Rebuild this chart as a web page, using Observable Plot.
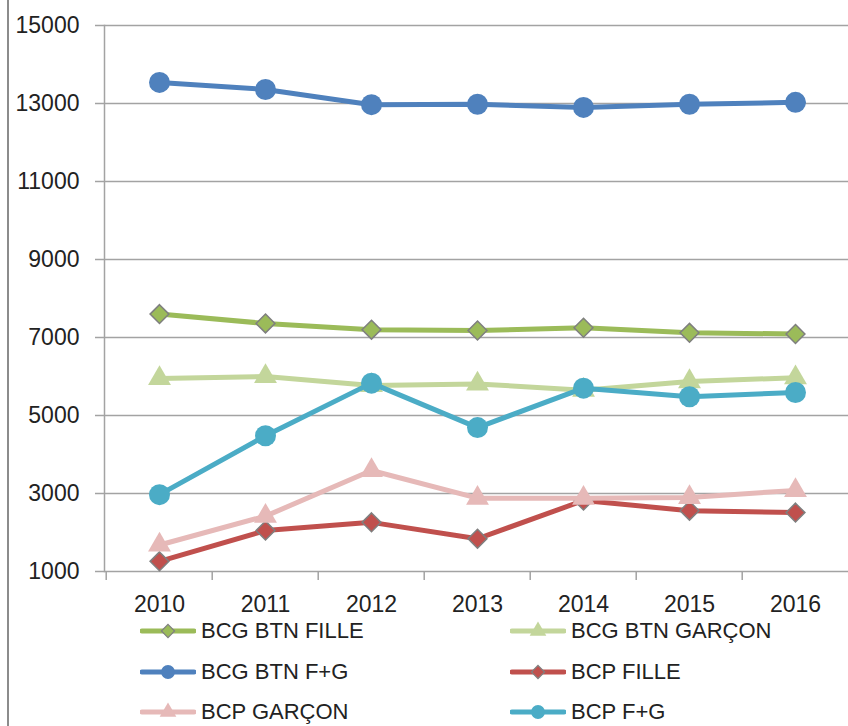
<!DOCTYPE html>
<html>
<head>
<meta charset="utf-8">
<script src="https://cdn.jsdelivr.net/npm/d3@7"></script>
<script src="https://cdn.jsdelivr.net/npm/@observablehq/plot@0.6"></script>
<style>
  html, body { margin: 0; padding: 0; background: #fff; }
  #wrap { position: relative; width: 848px; height: 726px; overflow: hidden; font-family: "Liberation Sans", Arial, sans-serif; }
  #border { position: absolute; left: 7px; top: 0; bottom: 0; width: 2px; background: #8c8c8c; }
  #legend { position: absolute; left: 0; top: 611px; width: 848px; }
  .row { position: absolute; height: 40px; display: flex; align-items: center; font-size: 22px; color: #222; white-space: nowrap; }
  .row svg { margin-right: 5px; }
</style>
</head>
<body>
<div id="wrap"><div id="border"></div><div id="chart"></div><div id="legend"></div></div>
<script>
const years = ["2010", "2011", "2012", "2013", "2014", "2015", "2016"];
const seriesNames = ["BCG BTN FILLE", "BCG BTN GARÇON", "BCG BTN F+G", "BCP FILLE", "BCP GARÇON", "BCP F+G"];
const bcgBtnFille  = [7600, 7360, 7200, 7180, 7250, 7120, 7090];
const bcgBtnGarcon = [5950, 6000, 5770, 5810, 5650, 5870, 5970];
const bcgBtnFG     = [13540, 13360, 12970, 12980, 12900, 12980, 13030];
const bcpFille     = [1260, 2050, 2260, 1840, 2820, 2560, 2510];
const bcpGarcon    = [1680, 2420, 3590, 2880, 2880, 2900, 3080];
const bcpFG        = [2970, 4480, 5830, 4690, 5700, 5480, 5590];
const yTicks = [1000, 3000, 5000, 7000, 9000, 11000, 13000, 15000];

const seriesValues = [bcgBtnFille, bcgBtnGarcon, bcgBtnFG, bcpFille, bcpGarcon, bcpFG];
const colors = ["#9BBB59", "#C3D69B", "#4F81BD", "#C0504D", "#E6B9B8", "#4BACC6"];
const symbols = ["diamond2", "triangle", "circle", "diamond2", "triangle", "circle"];
const radii = {diamond2: 8.5, triangle: 8.5, circle: 10.5};

const W = 848, H = 621, ML = 104, MR = -2, MT = 25, MB = 50;
const bw = (W - MR - ML) / years.length;
const grid = "#a3a3a3";

const marks = [
  Plot.gridY(yTicks, {stroke: grid, strokeOpacity: 1, strokeWidth: 1.5}),
  Plot.axisY(yTicks, {label: null, tickSize: 9, tickPadding: 16, stroke: grid, strokeOpacity: 1, strokeWidth: 1.5, fontSize: 23, fill: "#222", tickFormat: d => String(d)}),
  Plot.frame({anchor: "left", stroke: grid, strokeWidth: 1.5}),
  Plot.axisX(years, {label: null, tickSize: 9, dx: -bw / 2, text: null, stroke: grid, strokeOpacity: 1, strokeWidth: 1.5}),
  Plot.axisX(years, {label: null, tickSize: 0, tickPadding: 24, fontSize: 23, fill: "#222"})
];

seriesNames.forEach((name, i) => {
  const rows = years.map((y, j) => ({year: y, value: seriesValues[i][j], series: name}));
  const sym = symbols[i];
  marks.push(Plot.line(rows, {x: "year", y: "value", stroke: colors[i], strokeWidth: 5, strokeLinejoin: "round", strokeLinecap: "round"}));
  marks.push(Plot.dot(rows, {
    x: "year", y: "value", symbol: () => sym, r: radii[sym], fill: colors[i],
    stroke: sym === "diamond2" ? "#7f7f7f" : "none", strokeWidth: 1.5
  }));
});

const chart = Plot.plot({
  width: W, height: H,
  marginLeft: ML, marginRight: MR, marginTop: MT, marginBottom: MB,
  style: {fontFamily: "'Liberation Sans', Arial, sans-serif", background: "transparent", overflow: "visible"},
  x: {type: "band", domain: years, padding: 0, align: 0.5, axis: null, label: null},
  y: {domain: [1000, 15000], axis: null, label: null},
  symbol: {type: "identity"},
  marks
});
document.getElementById("chart").appendChild(chart);

// legend
const legend = document.getElementById("legend");
const colX = [140, 510];
seriesNames.forEach((name, i) => {
  const row = document.createElement("div");
  row.className = "row";
  row.style.left = colX[i % 2] + "px";
  row.style.top = (Math.floor(i / 2) * 40.5) + "px";
  const ns = "http://www.w3.org/2000/svg";
  const svg = document.createElementNS(ns, "svg");
  svg.setAttribute("width", 56); svg.setAttribute("height", 24);
  const line = document.createElementNS(ns, "line");
  line.setAttribute("x1", 2); line.setAttribute("x2", 54); line.setAttribute("y1", 12); line.setAttribute("y2", 12);
  line.setAttribute("stroke", colors[i]); line.setAttribute("stroke-width", 5); line.setAttribute("stroke-linecap", "round");
  svg.appendChild(line);
  const p = document.createElementNS(ns, "path");
  const symMap = {diamond2: d3.symbolDiamond2, triangle: d3.symbolTriangle, circle: d3.symbolCircle};
  const sizeMap = {diamond2: 110, triangle: 120, circle: 150};
  p.setAttribute("d", d3.symbol(symMap[symbols[i]], sizeMap[symbols[i]])());
  p.setAttribute("transform", "translate(28,12)");
  p.setAttribute("fill", colors[i]);
  if (symbols[i] === "diamond2") { p.setAttribute("stroke", "#7f7f7f"); p.setAttribute("stroke-width", 1.2); }
  svg.appendChild(p);
  row.appendChild(svg);
  const t = document.createElement("span");
  t.textContent = name;
  row.appendChild(t);
  legend.appendChild(row);
});
</script>
</body>
</html>
